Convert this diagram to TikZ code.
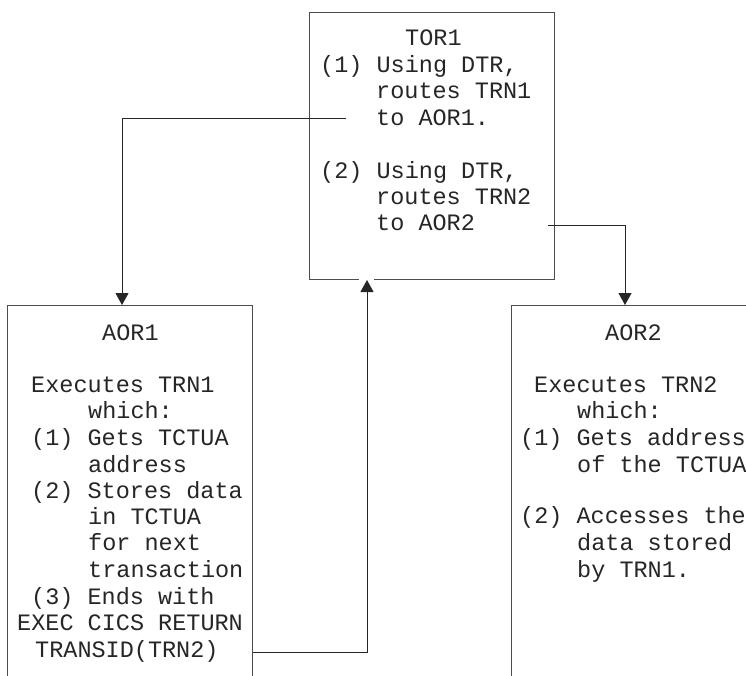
\documentclass[tikz,border=0pt]{standalone}
\usepackage{fontspec}
\setmonofont{Liberation Mono}
\usetikzlibrary{arrows.meta}
\begin{document}
\begin{tikzpicture}[x=1pt,y=-1pt,
  box/.style={draw=black!70, line width=1pt, anchor=north west, inner sep=0pt, rectangle},
  txt/.style={anchor=base west, inner sep=0pt, font=\ttfamily\fontsize{23.5}{26}\selectfont, text=black!85},
  conn/.style={draw=black!85, line width=1pt, -{Triangle[length=12pt,width=13pt]}}
]
\path[use as bounding box] (0,0) rectangle (746,675);
\clip (0,0) rectangle (746,675);

% boxes
\node[box, minimum width=245pt, minimum height=267pt] (tor1) at (309,12) {};
\node[box, minimum width=245pt, minimum height=420pt] (aor1) at (7,305) {};
\node[box, minimum width=260pt, minimum height=420pt] (aor2) at (511,305) {};

% TOR1 text
\node[txt] (t0) at (405,45) {TOR1};
\node[txt] (t1) at (320,72) {(1) Using DTR,};
\node[txt] (t2) at (376,98.5) {routes TRN1};
\node[txt] (t3) at (376,125) {to AOR1.};
\node[txt] (t4) at (320,178) {(2) Using DTR,};
\node[txt] (t5) at (376,204) {routes TRN2};
\node[txt] (t6) at (376,230) {to AOR2};

% AOR1 text
\node[txt] (a0) at (102,340) {AOR1};
\node[txt] (a1) at (31,392) {Executes TRN1};
\node[txt] (a2) at (88,418) {which:};
\node[txt] (a3) at (31,445) {(1) Gets TCTUA};
\node[txt] (a4) at (88,472) {address};
\node[txt] (a5) at (31,498) {(2) Stores data};
\node[txt] (a6) at (88,524) {in TCTUA};
\node[txt] (a7) at (88,550) {for next};
\node[txt] (a8) at (88,577) {transaction};
\node[txt] (a9) at (31,604) {(3) Ends with};
\node[txt] (a10) at (17,630) {EXEC CICS RETURN};
\node[txt] (a11) at (35,657) {TRANSID(TRN2)};

% AOR2 text
\node[txt] (b0) at (605,340) {AOR2};
\node[txt] (b1) at (534,392) {Executes TRN2};
\node[txt] (b2) at (577,418) {which:};
\node[txt] (b3) at (520,445) {(1) Gets address};
\node[txt] (b4) at (577,472) {of the TCTUA};
\node[txt] (b5) at (520,523) {(2) Accesses the};
\node[txt] (b6) at (577,550) {data stored};
\node[txt] (b7) at (577,577) {by TRN1.};

% connectors
\coordinate (c1s) at (346,118);
\coordinate (c1e) at (aor1.north west -| 122,0);
\draw[conn] (c1s) -| (c1e);

\coordinate (c2s) at (548,225);
\coordinate (c2e) at (aor2.north west -| 625,0);
\draw[conn] (c2s) -| (c2e);

\coordinate (c3s) at (aor1.north east |- 0,652);
\coordinate (c3e) at (tor1.south west -| 367,0);
\draw[white, line width=3pt] ([xshift=-8pt]c3e) -- ([xshift=7pt]c3e);
\draw[conn] (c3s) -| (c3e);
\end{tikzpicture}
\end{document}
